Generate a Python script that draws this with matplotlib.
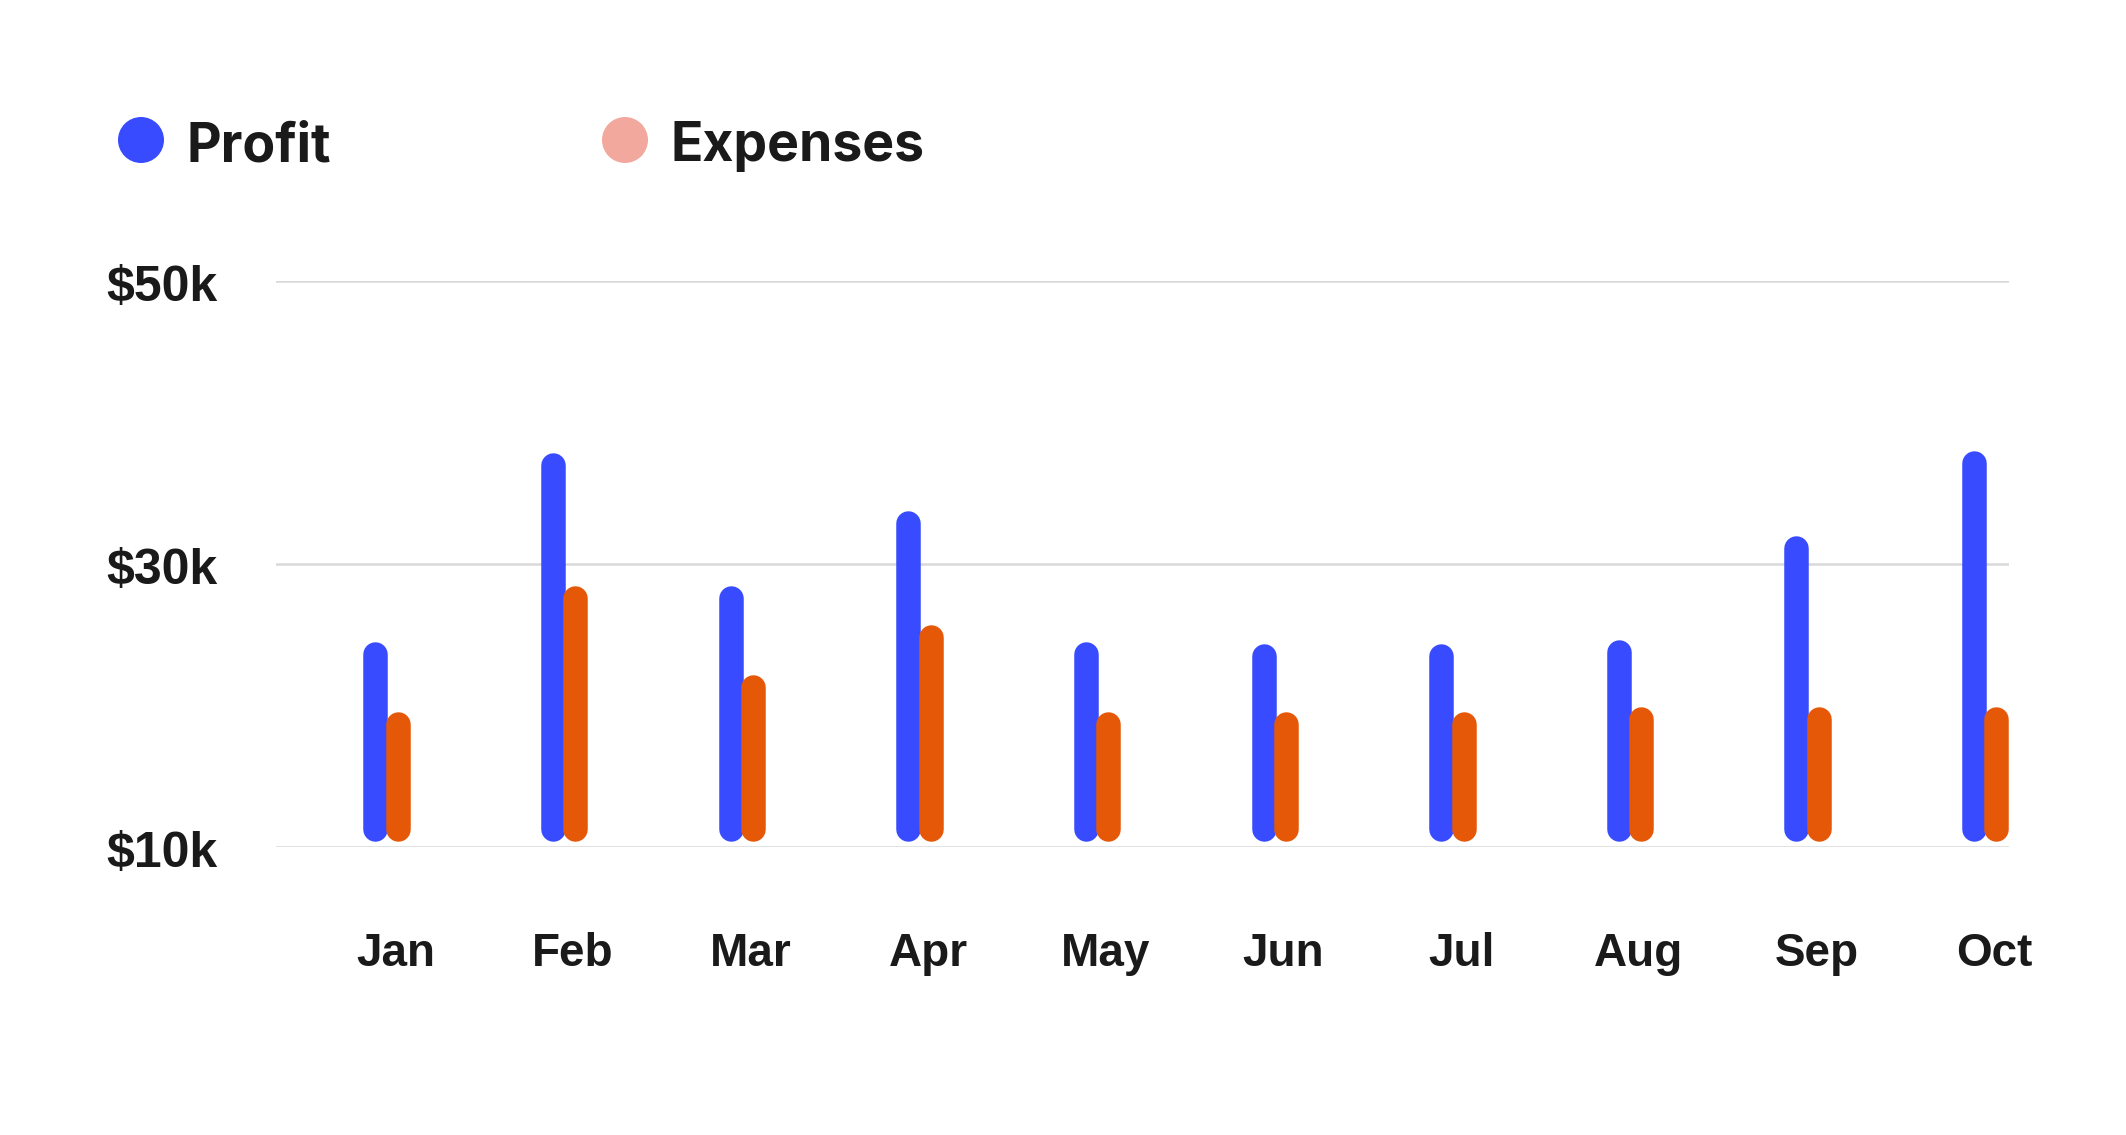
import matplotlib
matplotlib.use("Agg")
import matplotlib.pyplot as plt
from matplotlib.patches import Ellipse
from matplotlib.transforms import blended_transform_factory
import numpy as np

# ---- data ----
months = ["Jan", "Feb", "Mar", "Apr", "May", "Jun", "Jul", "Aug", "Sep", "Oct"]
profit = [24.5, 37.9, 28.5, 33.8, 24.5, 24.4, 24.4, 24.7, 32.0, 38.0]      # $k
expenses = [19.6, 28.5, 22.2, 25.7, 19.6, 19.6, 19.6, 19.9, 19.9, 19.9]    # $k
bar_base = 10.45
y_ticks = [10, 30, 50]
y_tick_labels = ["$10k", "$30k", "$50k"]
series_names = ["Profit", "Expenses"]

# ---- style ----
BLUE = "#384BFF"
ORANGE = "#E55807"
ORANGE_LEGEND = "#F2A89C"
TEXT = "#1A1A1A"
GRID = "#D9D9D9"

W, H, DPI = 2126, 1135, 100
fig = plt.figure(figsize=(W / DPI, H / DPI), dpi=DPI)
fig.patch.set_facecolor("white")

# axes placed so that the grid spans the same area as the reference
ax_left_px, ax_right_px = 276, 2009
ax_bottom_px, ax_top_px = 847.3, 281.3   # y pixel (from top) of 10k and 50k
ax = fig.add_axes([ax_left_px / W, 1 - ax_bottom_px / H,
                   (ax_right_px - ax_left_px) / W, (ax_bottom_px - ax_top_px) / H])
ax.set_ylim(10, 50)
ax.set_xlim(-0.623, 9.134)
ax.set_facecolor("white")
for s in ax.spines.values():
    s.set_visible(False)
ax.set_xticks([])
ax.set_yticks([])

# gridlines
for t in y_ticks:
    ax.axhline(t, color=GRID, lw=1.8, zorder=0)

# bars as thick lines with round caps
lw_px = 24.5
lw_pt = lw_px * 72 / DPI
px_per_unit_y = ax.bbox.height / (50 - 10)
r_data = (lw_px / 2) / px_per_unit_y
x = np.arange(len(months))
off = 0.063
for xi, p in zip(x, profit):
    ax.plot([xi - off, xi - off], [bar_base + r_data, p - r_data], color=BLUE,
            lw=lw_pt, solid_capstyle="round", zorder=2, clip_on=False)
for xi, e in zip(x, expenses):
    ax.plot([xi + off, xi + off], [bar_base + r_data, e - r_data], color=ORANGE,
            lw=lw_pt, solid_capstyle="round", zorder=3, clip_on=False)

# month labels
tr_x = blended_transform_factory(ax.transData, fig.transFigure)
for xi, m in zip(x, months):
    fig.text(xi + 0.05, 1 - 966 / H, m, transform=tr_x, ha="center", va="baseline",
             fontsize=33, fontweight="bold", family=["Liberation Sans", "DejaVu Sans"],
             color=TEXT)

# y labels
tr_y = blended_transform_factory(fig.transFigure, ax.transData)
for t, lab in zip(y_ticks, y_tick_labels):
    fig.text(106 / W, t - 0.45, lab, transform=tr_y, ha="left", va="center",
             fontsize=36, fontweight="bold", family=["Liberation Sans", "DejaVu Sans"],
             color=TEXT)

# legend
leg_colors = [BLUE, ORANGE_LEGEND]
leg_cx = [141, 625]
leg_tx = [187, 671]
for c, cx, tx, name in zip(leg_colors, leg_cx, leg_tx, series_names):
    fig.add_artist(Ellipse((cx / W, 1 - 140 / H), 46 / W, 46 / H,
                           transform=fig.transFigure, color=c, lw=0))
    fig.text(tx / W, 1 - 161 / H, name, ha="left", va="baseline", fontsize=38.5,
             fontweight="bold", family=["Inter", "DejaVu Sans"], color=TEXT)

fig.savefig("out.png", dpi=DPI, facecolor="white")
